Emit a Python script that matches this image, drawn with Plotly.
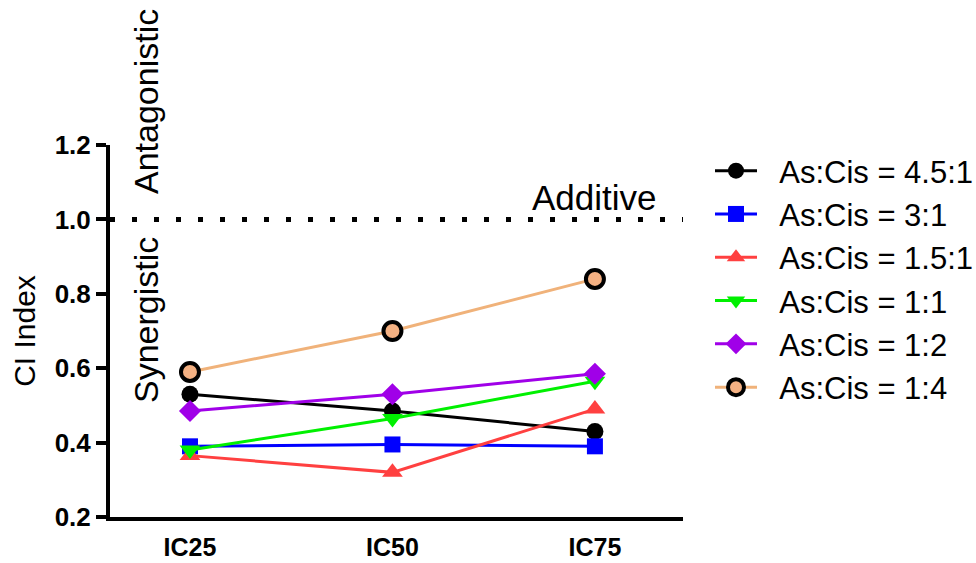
import plotly.graph_objects as go

categories = ["IC25", "IC50", "IC75"]
ratio_4_5_1 = [0.53, 0.485, 0.43]
ratio_3_1 = [0.39, 0.395, 0.39]
ratio_1_5_1 = [0.365, 0.32, 0.49]
ratio_1_1 = [0.38, 0.465, 0.565]
ratio_1_2 = [0.485, 0.53, 0.585]
ratio_1_4 = [0.59, 0.70, 0.84]
y_ticks = [0.2, 0.4, 0.6, 0.8, 1.0, 1.2]
additive_level = 1.0

series = [
    ("As:Cis = 4.5:1", ratio_4_5_1, "#000000", "circle", 17, "#000000", 0),
    ("As:Cis = 3:1", ratio_3_1, "#0000FF", "square", 16, "#0000FF", 0),
    ("As:Cis = 1.5:1", ratio_1_5_1, "#FF4040", "triangle-up", 18, "#FF4040", 0),
    ("As:Cis = 1:1", ratio_1_1, "#00F000", "triangle-down", 18, "#00F000", 0),
    ("As:Cis = 1:2", ratio_1_2, "#A000E8", "diamond", 17, "#A000E8", 0),
    ("As:Cis = 1:4", ratio_1_4, "#F0B27A", "circle", 18, "#F4B183", 4),
]

FONT = "Arial, Liberation Sans, sans-serif"
L, R, T, B = 110, 683, 145, 517
PW, PH = R - L, B - T

fig = go.Figure()
for name, vals, color, sym, size, fill, lw in series:
    fig.add_trace(go.Scatter(
        x=categories, y=vals, name="&nbsp;&nbsp;" + name, mode="lines+markers",
        line=dict(color=color, width=3),
        marker=dict(symbol=sym, size=size, color=fill,
                    line=dict(color="#000000", width=lw)),
    ))

fig.add_shape(type="line", xref="paper", yref="y", x0=0.0, x1=1.0,
              y0=additive_level, y1=additive_level,
              line=dict(color="#000000", width=5, dash="5px,17px"))

fig.add_annotation(text="Additive", xref="paper", yref="y",
                   x=(594 - L) / PW, y=additive_level, xanchor="center",
                   yanchor="bottom", showarrow=False, yshift=0,
                   font=dict(family=FONT, size=35, color="#000"))
fig.add_annotation(text="Antagonistic", xref="paper", yref="paper",
                   x=(146 - L) / PW, y=(B - 102) / PH, textangle=-90,
                   xanchor="center", yanchor="middle", showarrow=False,
                   font=dict(family=FONT, size=34, color="#000"))
fig.add_annotation(text="Synergistic", xref="paper", yref="paper",
                   x=(146 - L) / PW, y=(B - 320) / PH, textangle=-90,
                   xanchor="center", yanchor="middle", showarrow=False,
                   font=dict(family=FONT, size=34, color="#000"))

fig.update_layout(
    width=976, height=563,
    margin=dict(l=L, r=976 - R, t=T, b=563 - B, autoexpand=False),
    paper_bgcolor="white", plot_bgcolor="white",
    font=dict(family=FONT, color="#000"),
    showlegend=True,
    legend=dict(x=(710 - L) / PW, xanchor="left", y=(B - 144) / PH,
                yanchor="top", font=dict(size=31, color="#000"),
                bgcolor="rgba(0,0,0,0)", itemwidth=42),
    xaxis=dict(range=[-0.395, 2.435], showline=True, linecolor="#000",
               linewidth=4, ticks="", showgrid=False, zeroline=False,
               automargin=False,
               tickfont=dict(size=25, family=FONT, color="#000"),
               ticklabelstandoff=5),
    yaxis=dict(range=[0.2, 1.2], tickvals=y_ticks,
               ticktext=["<b>%.1f</b>" % v for v in y_ticks],
               showline=True, linecolor="#000", linewidth=4,
               ticks="outside", ticklen=10, tickwidth=4, tickcolor="#000",
               showgrid=False, zeroline=False, automargin=False,
               tickfont=dict(size=26, color="#000"),
               title=dict(text="CI Index", font=dict(size=30, color="#000"),
                          standoff=11)),
)
fig.update_xaxes(ticktext=["<b>%s</b>" % c for c in categories],
                 tickvals=categories)

fig.write_html("out.html", config={"displayModeBar": False},
               post_script="document.body.style.margin='0';")
